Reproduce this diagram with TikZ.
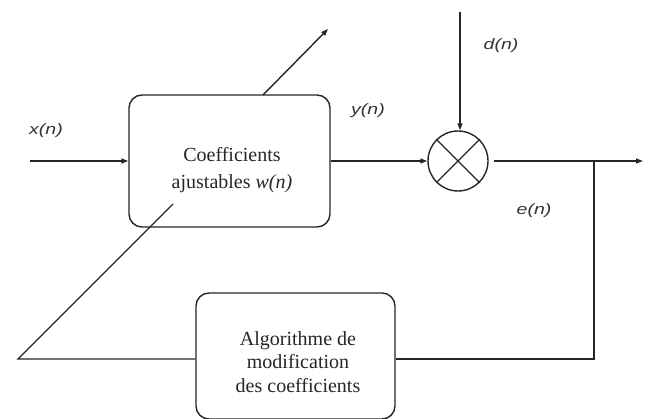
\documentclass[tikz,border=0pt]{standalone}
\usepackage{fontspec}
\setmainfont{Liberation Serif}
\newfontfamily\boxfont{Liberation Serif}
\newfontfamily\labfont[FakeStretch=1.3]{Liberation Sans}
\usetikzlibrary{arrows.meta}
\begin{document}
\begin{tikzpicture}[x=1pt,y=-1pt,
  ln/.style={draw=black!85, line width=1.4pt},
  arr/.style={ln, -{Triangle[length=7pt,width=5pt]}},
  blk/.style={draw=black!85, line width=1.4pt, rounded corners=13pt, fill=white, inner sep=0pt},
  txt/.style={text=black!85, align=center, inner sep=0pt},
  sig/.style={font=\labfont\itshape\fontsize{15}{17}\selectfont, text=black!80, inner sep=0pt},
]
\useasboundingbox (0,0) rectangle (648,419);
\begin{scope}
\clip (0,0) rectangle (648,419);
% blocks
\node[blk, minimum width=201pt, minimum height=132pt] (filt) at (229.5,161) {};
\node[blk, minimum width=199pt, minimum height=126pt] (alg) at (295.5,356) {};
\node[circle, draw=black!85, line width=1.4pt, minimum size=60pt, inner sep=0pt] (sum) at (458,161) {};
\draw[ln] (sum.45) -- (sum.225) (sum.135) -- (sum.315);
% texts
\node[txt, font=\boxfont\fontsize{20}{27}\selectfont] (ftxt) at (232,170) {Coefficients\\ajustables \textit{w(n)}};
\node[txt, font=\boxfont\fontsize{20}{23.5}\selectfont] (atxt) at (298,362) {Algorithme de\\modification\\des coefficients};
% coordinates
\coordinate (xin) at (30,161);
\coordinate (dtop) at (460,12);
\coordinate (out) at (643,161);
\coordinate (tap) at (594,161);
\coordinate (bl) at (18,359);
\coordinate (dlow) at (173,204);
\coordinate (dstart) at (263,95);
\coordinate (dend) at (328,29);
% connectors
\draw[arr] (xin) -- (filt.west);
\draw[arr] (filt.east) -- (sum.west);
\draw[arr] (dtop) -- (dtop |- sum.north);
\draw[arr, shorten <=5pt] (sum.east) -- (out);
\draw[ln] (tap) -- (tap |- bl) -- (alg.east |- bl);
\draw[ln] (alg.west |- bl) -- (bl) -- (dlow);
\draw[arr] (dstart) -- (dend);
% labels
\node[sig] (lx) at (46,131) {x(n)};
\node[sig] (ly) at (368,111) {y(n)};
\node[sig] (ld) at (501,46) {d(n)};
\node[sig] (le) at (534,211) {e(n)};
\end{scope}
\end{tikzpicture}
\end{document}
